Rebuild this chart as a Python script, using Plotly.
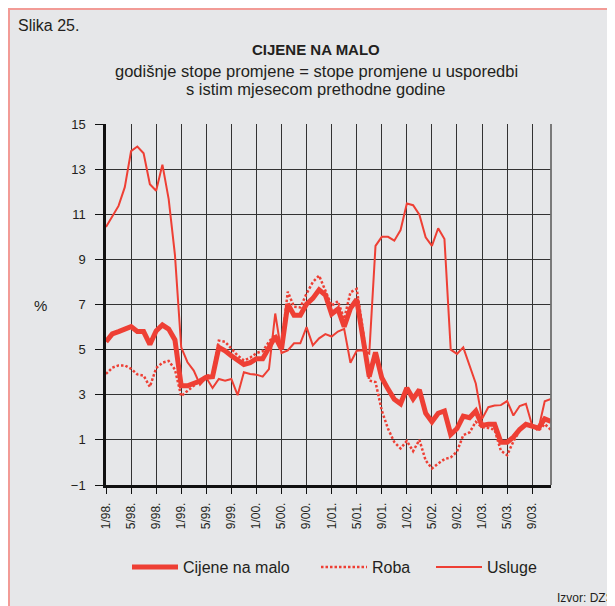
import plotly.graph_objects as go

# ---- data ----
years = ["98", "99", "00", "01", "02", "03"]
months = [f"{m}/{y}." for y in years for m in range(1, 13)]
tick_labels = ["1/98.", "5/98.", "9/98.", "1/99.", "5/99.", "9/99.", "1/00.", "5/00.",
               "9/00.", "1/01.", "5/01.", "9/01.", "1/02.", "5/02.", "9/02.", "1/03.",
               "5/03.", "9/03."]
y_ticks = [-1, 1, 3, 5, 7, 9, 11, 13, 15]

cijene = [5.35, 5.7, 5.8, 5.9, 6.02, 5.8, 5.8, 5.23, 5.83, 6.09, 5.91, 5.43,
          3.4, 3.4, 3.49, 3.61, 3.78, 3.8, 5.1, 4.95, 4.73, 4.5, 4.34, 4.42,
          4.6, 4.6, 5.07, 5.58, 5.02, 7.02, 6.52, 6.52, 7.02, 7.27, 7.65, 7.42,
          6.58, 6.8, 6.02, 6.83, 7.22, 5.4, 3.8, 4.88, 3.75, 3.25, 2.8, 2.6,
          3.3, 2.82, 3.22, 2.18, 1.8, 2.18, 2.28, 1.24, 1.5, 2.05, 1.98, 2.28,
          1.64, 1.69, 1.69, 0.9, 0.9, 1.12, 1.46, 1.69, 1.58, 1.52, 1.93, 1.82]

roba = [3.92, 4.2, 4.3, 4.3, 4.15, 3.9, 3.85, 3.35, 4.18, 4.42, 4.5, 4.12,
        2.94, 3.15, 3.4, 3.62, 3.85, 3.85, 5.4, 5.35, 5.02, 4.74, 4.52, 4.64,
        4.85, 4.93, 5.35, 5.68, 5.13, 7.57, 6.9, 6.87, 7.48, 7.99, 8.28, 7.6,
        6.95, 7.14, 6.36, 7.54, 7.69, 5.85, 3.63, 3.56, 2.3, 1.49, 0.9, 0.62,
        0.95, 0.5, 1.0, 0.09, -0.27, -0.05, 0.15, 0.22, 0.48, 1.21, 1.33, 1.8,
        1.56, 1.53, 1.45, 0.52, 0.32, 0.93, 1.42, 1.7, 1.63, 1.41, 1.7, 1.44]

usluge = [10.44, 10.9, 11.37, 12.2, 13.8, 14.0, 13.7, 12.33, 12.04, 13.2, 11.67, 9.2,
          5.1, 4.44, 4.07, 3.45, 3.75, 3.3, 3.7, 3.62, 3.7, 2.98, 4.0, 3.92,
          3.89, 3.8, 4.14, 6.6, 4.85, 4.96, 5.28, 5.28, 6.0, 5.19, 5.5, 5.69,
          5.58, 5.8, 5.92, 4.42, 4.95, 4.97, 4.82, 9.6, 10.0, 10.0, 9.83, 10.3,
          11.48, 11.4, 10.98, 9.98, 9.6, 10.38, 9.9, 5.0, 4.81, 5.1, 4.28, 3.5,
          1.93, 2.45, 2.52, 2.54, 2.72, 2.08, 2.5, 2.6, 1.63, 1.48, 2.71, 2.81]

# ---- layout geometry (figure pixels; page adds an 8px body margin) ----
W, H = 607, 598
L, R = 98, 543
T, B = 116, 477
RED = "#ee3f34"
TXT = "#231f20"
FONT = "Liberation Sans, Arial, Helvetica, sans-serif"


def px(x):
    return (x - L) / (R - L)


def py(y):
    return (B - y) / (B - T)


fig = go.Figure()
fig.add_trace(go.Scatter(x=months, y=cijene, name="Cijene na malo", mode="lines",
                         line=dict(color=RED, width=5), legend="legend"))
fig.add_trace(go.Scatter(x=months, y=roba, name="Roba", mode="lines",
                         line=dict(color=RED, width=2.5, dash="2.5px,2px"),
                         legend="legend2"))
fig.add_trace(go.Scatter(x=months, y=usluge, name="Usluge", mode="lines",
                         line=dict(color=RED, width=2), legend="legend3"))

shapes = [
    dict(type="rect", xref="paper", yref="paper", layer="below",
         x0=px(1), x1=px(W + 10), y0=py(H + 10), y1=py(1),
         fillcolor="#e6e7e9", line=dict(color="#f29b96", width=2)),
    dict(type="line", xref="paper", yref="paper", layer="above",
         x0=1, x1=1, y0=0, y1=1, line=dict(color="#6e6e6e", width=1.8)),
]

annotations = [
    dict(text="Slika 25.", x=px(8), y=py(18), xanchor="left", yanchor="middle",
         font=dict(size=16)),
    dict(text="<b>CIJENE NA MALO</b>", x=px(308), y=py(41), xanchor="center",
         yanchor="middle", font=dict(size=15)),
    dict(text="godišnje stope promjene = stope promjene u usporedbi", x=px(308), y=py(63),
         xanchor="center", yanchor="middle", font=dict(size=16.5)),
    dict(text="s istim mjesecom prethodne godine", x=px(308), y=py(81),
         xanchor="center", yanchor="middle", font=dict(size=16.5)),
    dict(text="%", x=px(32), y=py(297), xanchor="center", yanchor="middle",
         font=dict(size=15)),
    dict(text="Izvor: DZS", x=px(547), y=py(590), xanchor="left", yanchor="middle",
         font=dict(size=12)),
]
for a in annotations:
    a.update(xref="paper", yref="paper", showarrow=False)


def leg(x_left):
    return dict(orientation="h", x=px(x_left), xanchor="left", y=py(559),
                yanchor="middle", font=dict(size=16), bgcolor="rgba(0,0,0,0)",
                itemwidth=46, borderwidth=0)


fig.update_layout(
    width=W, height=H,
    margin=dict(l=L, r=W - R, t=T, b=H - B, pad=0),
    paper_bgcolor="white", plot_bgcolor="rgba(0,0,0,0)",
    font=dict(family=FONT, color=TXT, size=13),
    showlegend=True,
    legend=leg(119), legend2=leg(308), legend3=leg(423),
    shapes=shapes, annotations=annotations,
    xaxis=dict(type="category", categoryorder="array", categoryarray=months,
               range=[0, len(months) - 1], tickmode="array", tickvals=tick_labels,
               ticktext=tick_labels, tickangle=-90, showgrid=True,
               gridcolor="#333333", gridwidth=1.2, ticks="outside", ticklen=6,
               tickwidth=1.2, tickcolor="#111", showline=True, linecolor="#111",
               linewidth=2.5, zeroline=False, tickfont=dict(size=12),
               ticklabelstandoff=4),
    yaxis=dict(range=[-1, 15], tickmode="array", tickvals=y_ticks, showgrid=True,
               gridcolor="#333333", gridwidth=1.2, ticks="outside", ticklen=8,
               tickwidth=1.2, tickcolor="#111", showline=True, linecolor="#111",
               linewidth=2.5, zeroline=False, tickfont=dict(size=13),
               ticklabelstandoff=7),
)

fig.write_html("out.html")
